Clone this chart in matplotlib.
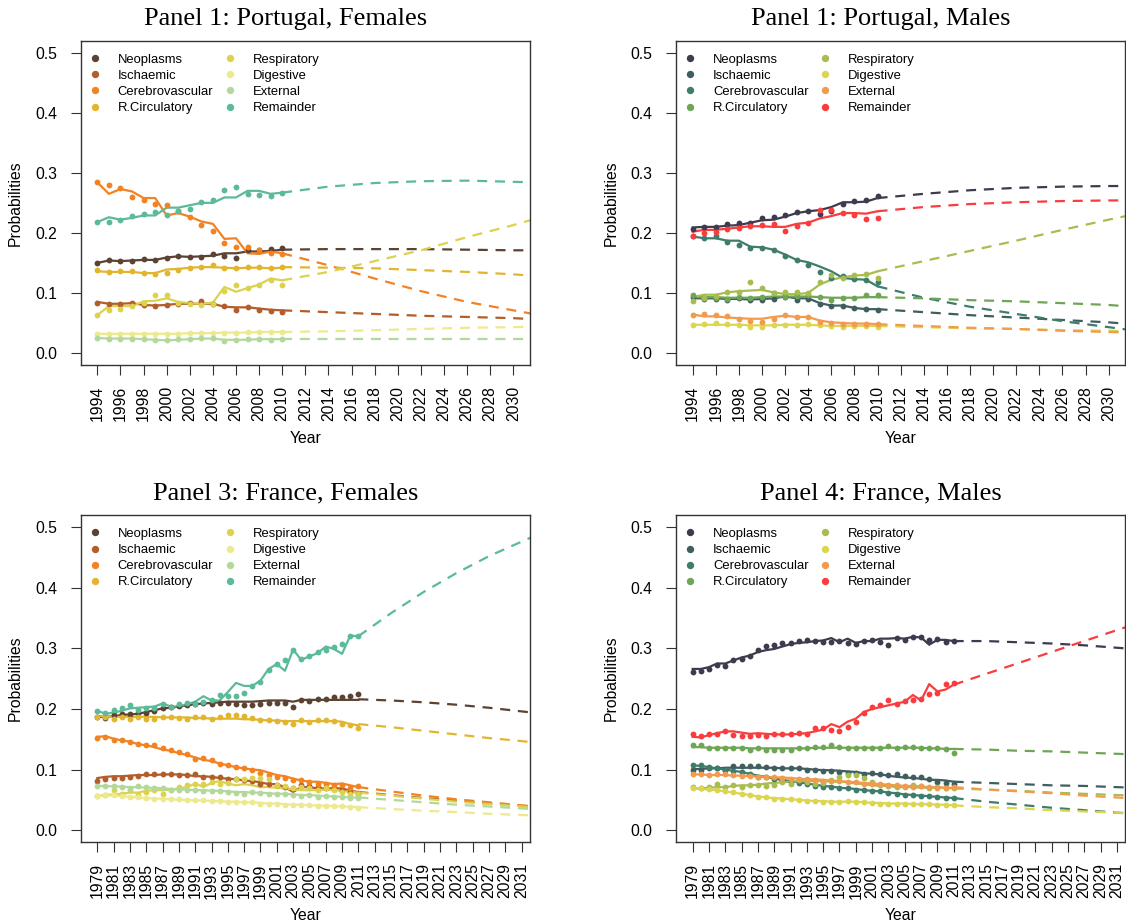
import matplotlib
matplotlib.use("Agg")
import matplotlib.pyplot as plt
from matplotlib.lines import Line2D

plt.rcParams['font.family'] = ['Liberation Sans', 'DejaVu Sans']

CAUSES = ["Neoplasms", "Ischaemic", "Cerebrovascular", "R.Circulatory",
          "Respiratory", "Digestive", "External", "Remainder"]
FEMALE_COLORS = ["#5b4233", "#b25d2a", "#f28222", "#e2b52f",
                 "#dcd24e", "#ece98f", "#b2d89c", "#5bba98"]
MALE_COLORS = ["#3f3a4d", "#3f5e60", "#3e7d6c", "#6fa655",
               "#a7bd4f", "#dcd550", "#f29a4d", "#f93d3f"]

PT_YEARS = list(range(1994, 2011))
PT_FC_YEARS = [2010, 2014, 2018, 2022, 2026, 2030, 2032]
PT_TICKS = list(range(1994, 2031, 2))
FR_YEARS = list(range(1979, 2012))
FR_FC_YEARS = [2011, 2015, 2019, 2023, 2027, 2031, 2033]
FR_TICKS = list(range(1979, 2032, 2))

# ---------------- Panel 1: Portugal, Females ----------------
PTF_OBS = {
    "Neoplasms":       [.150,.155,.153,.154,.156,.155,.158,.162,.160,.160,.164,.162,.159,.171,.171,.173,.174],
    "Ischaemic":       [.084,.082,.082,.083,.080,.079,.080,.082,.083,.086,.082,.078,.072,.077,.072,.070,.068],
    "Cerebrovascular": [.284,.279,.274,.259,.255,.248,.246,.236,.227,.213,.203,.183,.176,.177,.171,.166,.165],
    "R.Circulatory":   [.139,.135,.137,.136,.134,.131,.133,.139,.142,.144,.146,.142,.141,.144,.144,.141,.144],
    "Respiratory":     [.063,.071,.073,.078,.083,.097,.096,.083,.082,.080,.082,.104,.113,.108,.114,.122,.114],
    "Digestive":       [.032,.032,.032,.032,.032,.031,.032,.032,.033,.033,.034,.034,.033,.035,.035,.035,.035],
    "External":        [.025,.024,.024,.024,.023,.022,.022,.023,.024,.025,.025,.020,.022,.023,.023,.022,.023],
    "Remainder":       [.218,.218,.222,.228,.232,.234,.230,.237,.240,.251,.254,.271,.276,.264,.263,.262,.267],
}
PTF_FIT = {
    "Neoplasms":       [.150,.154,.153,.154,.155,.155,.159,.161,.160,.161,.162,.166,.166,.169,.169,.170,.172],
    "Ischaemic":       [.085,.082,.082,.083,.080,.079,.080,.082,.082,.082,.082,.077,.076,.076,.074,.072,.071],
    "Cerebrovascular": [.284,.265,.273,.269,.258,.258,.229,.233,.227,.219,.215,.190,.191,.166,.165,.169,.166],
    "R.Circulatory":   [.136,.135,.135,.135,.133,.133,.139,.140,.142,.143,.143,.142,.141,.142,.142,.141,.142],
    "Respiratory":     [.063,.078,.078,.078,.086,.087,.091,.085,.083,.082,.084,.110,.102,.108,.114,.124,.121],
    "Digestive":       [.032,.032,.032,.032,.032,.032,.032,.032,.033,.033,.033,.034,.034,.034,.035,.035,.035],
    "External":        [.025,.024,.024,.024,.023,.022,.021,.022,.023,.024,.024,.022,.022,.022,.023,.023,.023],
    "Remainder":       [.218,.226,.222,.225,.229,.229,.242,.242,.246,.250,.250,.259,.259,.270,.270,.265,.267],
}
PTF_FC = {
    "Neoplasms":       [.172,.173,.173,.173,.172,.171,.171],
    "Ischaemic":       [.071,.068,.065,.062,.060,.058,.056],
    "Cerebrovascular": [.166,.146,.124,.103,.085,.071,.064],
    "R.Circulatory":   [.143,.142,.141,.138,.135,.131,.128],
    "Respiratory":     [.121,.135,.153,.171,.193,.213,.224],
    "Digestive":       [.035,.036,.038,.040,.042,.043,.044],
    "External":        [.023,.023,.023,.023,.023,.023,.023],
    "Remainder":       [.267,.277,.283,.286,.287,.285,.284],
}

# ---------------- Panel 2: Portugal, Males ----------------
PTM_OBS = {
    "Neoplasms":       [.207,.210,.210,.215,.216,.217,.225,.227,.230,.234,.237,.232,.237,.248,.253,.255,.262],
    "Ischaemic":       [.094,.090,.090,.088,.091,.088,.088,.090,.093,.088,.090,.082,.078,.079,.075,.073,.072],
    "Cerebrovascular": [.194,.192,.194,.185,.180,.174,.175,.171,.161,.155,.146,.135,.125,.129,.123,.121,.119],
    "R.Circulatory":   [.096,.091,.091,.090,.093,.091,.093,.100,.094,.095,.097,.093,.089,.091,.091,.096,.096],
    "Respiratory":     [.086,.091,.095,.102,.102,.119,.108,.100,.101,.101,.100,.119,.130,.125,.130,.131,.125],
    "Digestive":       [.047,.048,.050,.048,.047,.043,.043,.046,.047,.047,.048,.046,.045,.044,.045,.045,.044],
    "External":        [.064,.065,.064,.061,.057,.054,.052,.057,.063,.060,.060,.052,.050,.049,.048,.049,.048],
    "Remainder":       [.194,.200,.202,.207,.208,.211,.213,.215,.203,.212,.217,.238,.238,.233,.229,.223,.225],
}
PTM_FIT = {
    "Neoplasms":       [.209,.210,.210,.212,.213,.217,.221,.222,.227,.233,.236,.238,.243,.251,.251,.252,.258],
    "Ischaemic":       [.091,.091,.091,.090,.090,.089,.090,.091,.094,.091,.091,.083,.079,.079,.075,.073,.073],
    "Cerebrovascular": [.194,.191,.191,.187,.187,.177,.176,.172,.164,.155,.151,.144,.136,.125,.123,.122,.111],
    "R.Circulatory":   [.093,.093,.093,.092,.092,.092,.093,.094,.094,.094,.094,.093,.092,.092,.092,.093,.093],
    "Respiratory":     [.093,.097,.097,.101,.103,.104,.105,.101,.098,.098,.100,.114,.122,.126,.129,.130,.136],
    "Digestive":       [.047,.047,.047,.047,.047,.046,.046,.046,.047,.047,.047,.046,.045,.045,.045,.045,.045],
    "External":        [.064,.061,.061,.059,.058,.057,.057,.060,.062,.060,.060,.054,.051,.050,.049,.049,.048],
    "Remainder":       [.202,.205,.205,.207,.209,.211,.211,.210,.210,.215,.217,.224,.228,.233,.233,.232,.236],
}
PTM_FC = {
    "Neoplasms":       [.258,.265,.271,.275,.277,.278,.278],
    "Ischaemic":       [.073,.068,.063,.059,.055,.051,.048],
    "Cerebrovascular": [.111,.092,.077,.065,.053,.043,.038],
    "R.Circulatory":   [.093,.091,.088,.086,.083,.080,.077],
    "Respiratory":     [.136,.153,.170,.187,.205,.222,.230],
    "Digestive":       [.045,.043,.041,.040,.038,.037,.036],
    "External":        [.048,.045,.042,.040,.037,.035,.034],
    "Remainder":       [.236,.243,.248,.251,.253,.254,.254],
}

# ---------------- Panel 3: France, Females ----------------
FRF_OBS = {
    "Neoplasms":       [.187,.185,.190,.191,.192,.194,.193,.197,.201,.203,.205,.207,.209,.210,.209,.210,.210,.208,.206,.206,.208,.210,.210,.210,.203,.214,.213,.217,.216,.220,.220,.221,.224],
    "Ischaemic":       [.081,.084,.086,.086,.088,.089,.092,.092,.092,.092,.091,.091,.092,.088,.088,.088,.085,.084,.082,.081,.077,.076,.074,.071,.070,.074,.073,.071,.070,.069,.066,.063,.059],
    "Cerebrovascular": [.152,.154,.149,.148,.146,.143,.140,.140,.135,.132,.129,.125,.118,.119,.115,.110,.107,.104,.102,.099,.095,.091,.088,.086,.082,.082,.080,.077,.076,.074,.074,.069,.073],
    "R.Circulatory":   [.187,.186,.184,.187,.184,.187,.184,.184,.187,.186,.185,.184,.186,.187,.184,.187,.190,.190,.188,.185,.182,.181,.180,.179,.175,.181,.179,.181,.182,.180,.176,.173,.168],
    "Respiratory":     [.057,.058,.066,.059,.067,.058,.063,.066,.060,.067,.071,.074,.077,.077,.080,.077,.078,.084,.085,.086,.086,.085,.074,.073,.070,.071,.069,.066,.069,.066,.063,.060,.060],
    "Digestive":       [.057,.058,.058,.057,.055,.055,.053,.052,.051,.051,.051,.049,.049,.049,.048,.048,.047,.047,.046,.046,.044,.043,.043,.042,.041,.041,.041,.040,.040,.040,.040,.038,.037],
    "External":        [.073,.073,.073,.071,.070,.073,.071,.070,.069,.067,.066,.067,.066,.065,.065,.064,.063,.062,.060,.063,.062,.059,.060,.059,.058,.057,.058,.055,.056,.055,.054,.053,.053],
    "Remainder":       [.196,.193,.198,.202,.206,.199,.202,.202,.208,.203,.209,.210,.208,.212,.214,.223,.221,.221,.226,.238,.245,.264,.274,.281,.297,.283,.287,.294,.297,.302,.307,.320,.320],
}
FRF_FIT = {
    "Neoplasms":       [.187,.187,.188,.190,.191,.192,.195,.198,.201,.202,.204,.206,.208,.209,.210,.211,.212,.212,.212,.212,.213,.214,.214,.214,.212,.215,.215,.215,.215,.215,.215,.215,.215],
    "Ischaemic":       [.086,.088,.089,.089,.090,.091,.091,.091,.092,.092,.092,.091,.089,.089,.088,.086,.085,.084,.082,.081,.079,.076,.076,.071,.063,.071,.071,.069,.069,.069,.069,.065,.063],
    "Cerebrovascular": [.154,.155,.151,.148,.146,.142,.140,.137,.133,.131,.127,.124,.120,.116,.114,.110,.107,.104,.102,.100,.099,.095,.091,.089,.085,.082,.080,.080,.078,.076,.077,.074,.071],
    "R.Circulatory":   [.188,.188,.187,.187,.187,.187,.187,.187,.186,.186,.186,.186,.185,.185,.184,.184,.184,.184,.183,.183,.182,.181,.181,.180,.180,.180,.180,.180,.180,.180,.179,.175,.173],
    "Respiratory":     [.057,.058,.059,.060,.062,.062,.065,.066,.066,.067,.069,.071,.077,.071,.078,.081,.077,.074,.076,.074,.071,.071,.070,.069,.067,.066,.066,.066,.067,.066,.065,.063,.062],
    "Digestive":       [.058,.057,.057,.056,.055,.054,.053,.052,.052,.051,.050,.050,.049,.049,.048,.048,.047,.047,.046,.046,.045,.044,.044,.043,.042,.042,.041,.041,.040,.040,.039,.039,.038],
    "External":        [.073,.073,.072,.072,.071,.071,.070,.070,.069,.068,.067,.067,.066,.066,.065,.065,.064,.063,.063,.062,.062,.061,.060,.060,.059,.058,.058,.057,.056,.056,.055,.054,.054],
    "Remainder":       [.197,.192,.194,.197,.201,.202,.203,.204,.209,.204,.204,.208,.212,.221,.214,.214,.228,.243,.238,.238,.247,.266,.274,.263,.298,.281,.287,.292,.303,.299,.291,.321,.320],
}
FRF_FC = {
    "Neoplasms":       [.216,.214,.211,.207,.202,.196,.193],
    "Ischaemic":       [.063,.058,.053,.049,.044,.040,.038],
    "Cerebrovascular": [.071,.064,.057,.051,.046,.041,.039],
    "R.Circulatory":   [.175,.170,.164,.158,.152,.147,.144],
    "Respiratory":     [.062,.057,.052,.047,.043,.039,.037],
    "Digestive":       [.038,.035,.032,.030,.027,.025,.024],
    "External":        [.054,.050,.046,.042,.039,.036,.034],
    "Remainder":       [.320,.358,.393,.424,.452,.476,.488],
}

# ---------------- Panel 4: France, Males ----------------
FRM_OBS = {
    "Neoplasms":       [.261,.263,.266,.272,.271,.281,.283,.287,.298,.304,.306,.308,.309,.312,.313,.312,.310,.310,.312,.308,.307,.312,.313,.310,.305,.317,.314,.318,.319,.314,.316,.310,.312],
    "Ischaemic":       [.100,.100,.102,.102,.100,.106,.106,.106,.106,.104,.103,.102,.102,.102,.100,.099,.098,.097,.096,.095,.095,.093,.095,.092,.091,.092,.089,.088,.087,.084,.080,.078,.076],
    "Cerebrovascular": [.107,.107,.104,.102,.100,.098,.096,.092,.088,.087,.084,.082,.080,.078,.076,.073,.071,.071,.070,.069,.067,.066,.065,.065,.062,.060,.058,.058,.057,.056,.055,.053,.053],
    "R.Circulatory":   [.141,.141,.135,.136,.136,.136,.136,.133,.135,.133,.132,.132,.133,.135,.136,.137,.138,.140,.137,.136,.136,.136,.136,.136,.139,.136,.137,.137,.136,.135,.135,.134,.128],
    "Respiratory":     [.071,.070,.071,.077,.071,.075,.071,.074,.074,.073,.074,.080,.077,.082,.080,.077,.078,.082,.087,.091,.091,.086,.080,.074,.073,.071,.071,.074,.073,.070,.071,.069,.069],
    "Digestive":       [.069,.069,.068,.066,.065,.063,.059,.058,.055,.054,.052,.051,.051,.049,.048,.048,.047,.047,.047,.048,.047,.047,.045,.044,.044,.044,.044,.043,.043,.043,.042,.041,.041],
    "External":        [.092,.092,.091,.092,.092,.091,.089,.089,.088,.088,.087,.086,.085,.085,.085,.082,.081,.081,.081,.080,.080,.077,.077,.076,.074,.074,.073,.071,.073,.071,.070,.070,.071],
    "Remainder":       [.158,.155,.158,.159,.163,.157,.155,.155,.157,.155,.159,.159,.159,.160,.158,.168,.168,.165,.163,.170,.179,.194,.203,.206,.215,.208,.213,.214,.217,.225,.227,.241,.243],
}
FRM_FIT = {
    "Neoplasms":       [.266,.266,.269,.275,.275,.280,.285,.288,.294,.297,.299,.303,.307,.309,.310,.312,.313,.317,.310,.316,.309,.312,.312,.316,.316,.317,.316,.319,.318,.306,.314,.314,.312],
    "Ischaemic":       [.101,.101,.102,.102,.103,.103,.103,.103,.103,.103,.103,.102,.102,.102,.101,.100,.099,.099,.098,.097,.096,.094,.093,.092,.090,.088,.087,.086,.085,.083,.083,.082,.080],
    "Cerebrovascular": [.107,.106,.104,.102,.100,.098,.096,.093,.090,.088,.085,.083,.081,.079,.077,.075,.073,.072,.070,.069,.068,.066,.065,.064,.062,.061,.059,.058,.057,.056,.055,.054,.053],
    "R.Circulatory":   [.137,.137,.136,.136,.136,.136,.136,.135,.135,.135,.135,.135,.135,.135,.135,.136,.136,.136,.136,.136,.136,.136,.136,.136,.136,.136,.136,.136,.136,.135,.135,.134,.134],
    "Respiratory":     [.068,.069,.070,.071,.071,.073,.074,.074,.075,.077,.078,.079,.080,.081,.081,.081,.081,.080,.080,.079,.077,.076,.074,.073,.073,.071,.071,.071,.070,.070,.070,.070,.069],
    "Digestive":       [.069,.068,.067,.066,.064,.062,.060,.058,.056,.054,.053,.052,.051,.050,.049,.048,.048,.047,.047,.047,.047,.046,.045,.045,.044,.044,.044,.043,.043,.043,.042,.042,.041],
    "External":        [.092,.092,.091,.091,.091,.090,.090,.089,.089,.088,.087,.087,.086,.085,.084,.084,.083,.082,.081,.080,.079,.078,.077,.076,.075,.074,.073,.073,.072,.071,.071,.070,.070],
    "Remainder":       [.154,.153,.157,.160,.163,.163,.161,.159,.160,.159,.158,.158,.158,.159,.160,.163,.166,.175,.170,.179,.184,.195,.200,.203,.206,.209,.212,.223,.214,.241,.229,.232,.240],
}
FRM_FC = {
    "Neoplasms":       [.312,.312,.310,.308,.305,.301,.299],
    "Ischaemic":       [.080,.078,.076,.074,.073,.071,.070],
    "Cerebrovascular": [.053,.047,.042,.037,.033,.029,.027],
    "R.Circulatory":   [.134,.133,.131,.130,.128,.126,.125],
    "Respiratory":     [.069,.067,.065,.062,.060,.058,.057],
    "Digestive":       [.041,.038,.036,.033,.031,.029,.028],
    "External":        [.071,.067,.064,.061,.057,.054,.052],
    "Remainder":       [.240,.258,.276,.294,.312,.330,.339],
}

TITLES = ["Panel 1: Portugal, Females", "Panel 1: Portugal, Males",
          "Panel 3: France, Females", "Panel 4: France, Males"]

W, H = 1126, 924
fig = plt.figure(figsize=(W / 100, H / 100), dpi=100)


def rect(left, top, right, bottom):
    return [left / W, 1 - bottom / H, (right - left) / W, (bottom - top) / H]


AX_RECTS = [rect(80.7, 40.7, 530, 365), rect(676, 40.7, 1125.3, 365),
            rect(80.7, 515, 530, 842.3), rect(676, 515, 1125.3, 842.3)]

SPINE = "#333333"


def draw_panel(ax, years, obs, fit, fc_years, fc, colors, ticks, xlim, title, ylab_y):
    for i, cause in enumerate(CAUSES):
        col = colors[i]
        ax.plot(years, obs[cause], linestyle="none", marker="o", ms=4.2,
                mfc=col, mec="none", zorder=3)
        ax.plot(years, fit[cause], color=col, lw=1.6, zorder=2)
        ax.plot(fc_years, fc[cause], color=col, lw=1.6,
                linestyle=(0, (4.5, 3.5)), zorder=2)
    ax.set_xlim(*xlim)
    ax.set_ylim(-0.02, 0.52)
    ax.set_yticks([0, 0.1, 0.2, 0.3, 0.4, 0.5])
    ax.set_yticklabels(["0.0", "0.1", "0.2", "0.3", "0.4", "0.5"])
    ax.set_xticks(ticks)
    ax.set_xticklabels([str(t) for t in ticks], rotation=90)
    ax.tick_params(axis="x", length=7.5, width=0.8, color=SPINE,
                   labelsize=11.3, pad=7.5)
    ax.tick_params(axis="y", length=7.0, width=0.8, color=SPINE,
                   labelsize=11.3, pad=10)
    for s in ax.spines.values():
        s.set_color(SPINE)
        s.set_linewidth(1.0)
    ax.set_ylabel("Probabilities", fontsize=11.3)
    ax.yaxis.set_label_coords(-0.128, 0.5)
    ax.set_xlabel("Year", fontsize=11.3)
    ax.xaxis.set_label_coords(0.5, ylab_y)
    ax.annotate(title, xy=(0.456, 1.0), xycoords="axes fraction",
                xytext=(0, 11.2), textcoords="offset points",
                ha="center", va="baseline", fontsize=19,
                family="Liberation Serif")
    handles = [Line2D([], [], linestyle="none", marker="o", ms=5.3,
                      mfc=colors[i], mec="none") for i in range(len(CAUSES))]
    ax.legend(handles, CAUSES, ncol=2, loc="upper left", frameon=False,
              bbox_to_anchor=(0.0071, 0.975),
              fontsize=9.4, handlelength=1.0, handletextpad=1.24,
              columnspacing=0.77, labelspacing=0.31, borderaxespad=0.0,
              borderpad=0.35)


axes = [fig.add_axes(r) for r in AX_RECTS]
draw_panel(axes[0], PT_YEARS, PTF_OBS, PTF_FIT, PT_FC_YEARS, PTF_FC,
           FEMALE_COLORS, PT_TICKS, (1992.56, 2031.44), TITLES[0], -0.205)
draw_panel(axes[1], PT_YEARS, PTM_OBS, PTM_FIT, PT_FC_YEARS, PTM_FC,
           MALE_COLORS, PT_TICKS, (1992.56, 2031.44), TITLES[1], -0.205)
draw_panel(axes[2], FR_YEARS, FRF_OBS, FRF_FIT, FR_FC_YEARS, FRF_FC,
           FEMALE_COLORS, FR_TICKS, (1976.96, 2032.04), TITLES[2], -0.200)
draw_panel(axes[3], FR_YEARS, FRM_OBS, FRM_FIT, FR_FC_YEARS, FRM_FC,
           MALE_COLORS, FR_TICKS, (1976.96, 2032.04), TITLES[3], -0.200)

fig.savefig("out.png", dpi=100)
